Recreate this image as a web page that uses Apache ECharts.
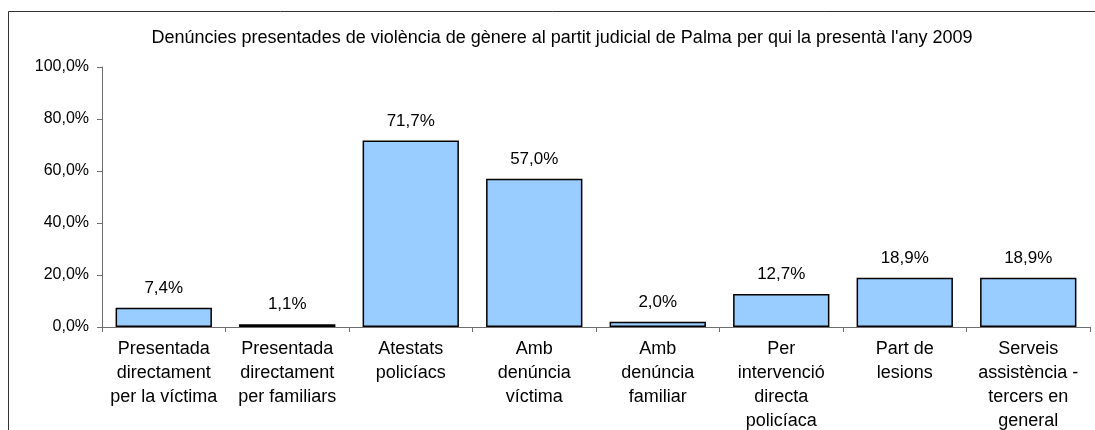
<!DOCTYPE html>
<html>
<head>
<meta charset="utf-8">
<script src="https://cdn.jsdelivr.net/npm/echarts@6/dist/echarts.min.js"></script>
<style>
  html, body { margin: 0; padding: 0; background: #fff; }
  #chart { width: 1095px; height: 430px; }
</style>
</head>
<body>
<div id="chart"></div>
<script>
// dades llegides del gràfic
const categories = [
  'Presentada\ndirectament\nper la víctima',
  'Presentada\ndirectament\nper familiars',
  'Atestats\npolicíacs',
  'Amb\ndenúncia\nvíctima',
  'Amb\ndenúncia\nfamiliar',
  'Per\nintervenció\ndirecta\npolicíaca',
  'Part de\nlesions',
  'Serveis\nassistència -\ntercers en\ngeneral'
]
const percentages = [7.4, 1.1, 71.7, 57.0, 2.0, 12.7, 18.9, 18.9]
const titleText = "Denúncies presentades de violència de gènere al partit judicial de Palma per qui la presentà l'any 2009"

const fmt = v => v.toFixed(1).replace('.', ',') + '%'

const chart = echarts.init(document.getElementById('chart'))
chart.setOption({
  animation: false,
  textStyle: { fontFamily: 'Liberation Sans, Arial, sans-serif' },
  title: {
    text: titleText,
    left: 557,
    top: 24,
    textAlign: 'center',
    textStyle: { fontSize: 18, fontWeight: 'normal', color: '#000' }
  },
  graphic: [{
    type: 'rect',
    shape: { x: 8.5, y: 11.5, width: 1100, height: 440 },
    style: { fill: 'none', stroke: '#333', lineWidth: 1 },
    silent: true
  }],
  grid: { left: 102, right: 5, top: 67, bottom: 103, outerBoundsMode: 'none', containLabel: false },
  xAxis: {
    type: 'category',
    data: categories,
    axisLine: { lineStyle: { color: '#6e6e6e', width: 1 } },
    axisTick: { show: true, length: 5, lineStyle: { color: '#6e6e6e' } },
    axisLabel: {
      interval: 0,
      margin: 10,
      fontSize: 18,
      lineHeight: 24,
      color: '#000'
    }
  },
  yAxis: {
    type: 'value',
    min: 0,
    max: 100,
    interval: 20,
    splitLine: { show: false },
    axisLine: { show: true, lineStyle: { color: '#6e6e6e', width: 1 } },
    axisTick: { show: true, length: 5, lineStyle: { color: '#6e6e6e' } },
    axisLabel: {
      margin: 13,
      fontSize: 16,
      color: '#000',
      formatter: v => fmt(v)
    }
  },
  series: [{
    type: 'bar',
    data: percentages,
    barWidth: '78%',
    itemStyle: { color: '#99CCFF', borderColor: '#000', borderWidth: 1.5 },
    label: {
      show: true,
      position: 'top',
      distance: 11,
      fontSize: 17,
      color: '#000',
      formatter: p => fmt(p.value)
    }
  }]
})
</script>
</body>
</html>
